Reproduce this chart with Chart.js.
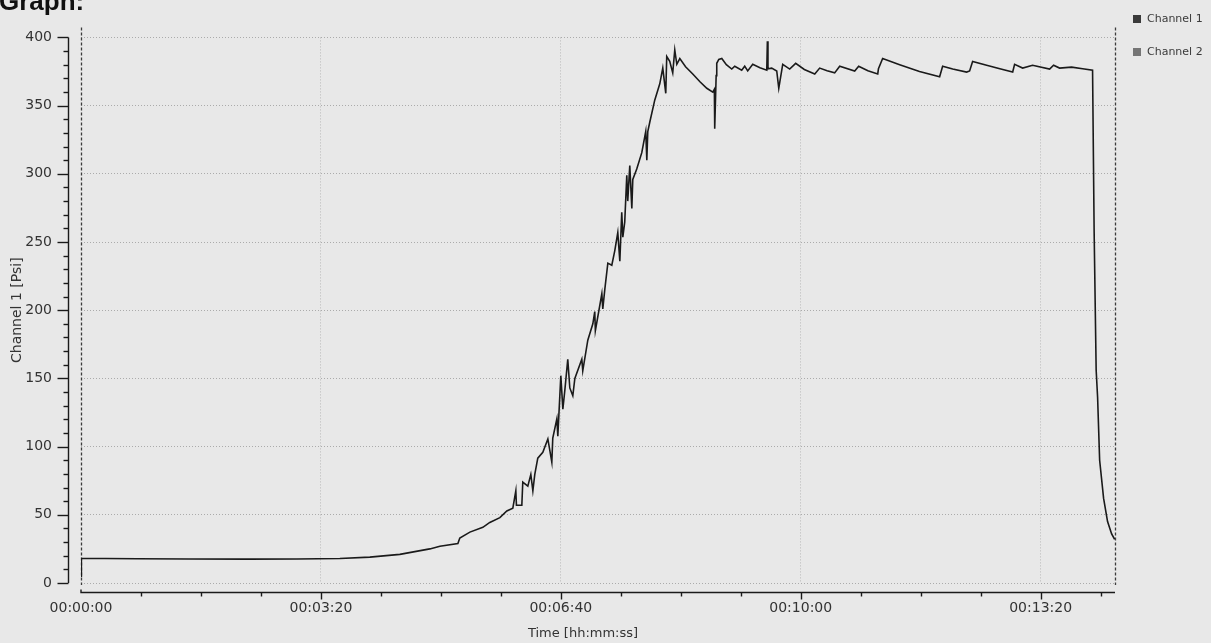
<!DOCTYPE html>
<html><head><meta charset="utf-8">
<script src="https://cdn.jsdelivr.net/npm/chart.js@4.4.1/dist/chart.umd.min.js"></script>
<style>
html,body{margin:0;padding:0;background:#e8e8e8;}
#wrap{position:relative;width:1211px;height:643px;}
</style></head><body>
<div id="wrap"><canvas id="c"></canvas></div>
<script>
const chartTitle = 'Graph:';
const seriesNames = ['Channel 1', 'Channel 2'];
const seriesColors = ['#1a1a1a', '#6b6b6b'];
const legendSwatches = ['#3a3a3a', '#757575'];
const xTitle = 'Time [hh:mm:ss]';
const yTitle = 'Channel 1 [Psi]';
const xTickLabels = ['00:00:00', '00:03:20', '00:06:40', '00:10:00', '00:13:20'];
const yTickLabels = ['0', '50', '100', '150', '200', '250', '300', '350', '400'];

// time in seconds
const timeSeconds = [
  0, 0.3, 20, 47, 90, 140, 180, 215.8, 240.8, 265.8, 290.8, 299.2,
  314.2, 315.8, 324.2, 335, 340.8, 349.2, 355, 360, 362.5, 363,
  367.5, 368.3, 372.5, 375, 376.7, 378.3, 380.8, 385, 389.2, 392.5,
  393.3, 396.7, 397.5, 400, 401.7, 403.3, 405.8, 407.5, 410, 411.7,
  417.5, 418.3, 422.5, 426.7, 428.3, 428.8, 434.2, 435, 436.7, 439.2,
  442.5, 445, 447.5, 449.2, 450.8, 451.7, 453.3, 455, 455.8, 457.5,
  459.2, 460, 463.3, 467.5, 470.8, 471.7, 472.5, 474.2, 478.3, 482.5,
  485, 487.5, 488.3, 490.8, 493.3, 495, 496.7, 499.2, 504, 510,
  516, 521.7, 526.7, 528, 528.3, 529.5, 530, 531.7, 534.2, 538,
  542.5, 545, 550.8, 553.3, 555.8, 560, 566, 571.7, 572.2, 572.7,
  575.8, 580, 581.7, 585, 590.8, 595.8, 603, 611.7, 615.8, 622,
  628.3, 632.5, 645, 648.3, 656, 664.2, 664.8, 668.3, 682.5, 699,
  715.8, 718.3, 726.7, 738.3, 740.8, 743.3, 755, 766, 776.7, 778.3,
  785, 793.3, 807.5, 810.8, 815.8, 825.8, 835, 843.3, 844.6, 846.3,
  847.5, 849.2, 852.5, 855.8, 859.2, 861.7
];
const channel1Psi = [
  5, 18, 18, 17.8, 17.6, 17.5, 17.6, 18, 19, 21, 25, 27,
  29, 33, 37.3, 40.8, 44.4, 47.9, 52.8, 54.9, 67.6, 57,
  57, 74, 71, 79.6, 67.6, 79.6, 91.5, 95.8, 105.6, 88.7,
  106.3, 120.4, 107.7, 152, 127.5, 140.8, 164, 143, 137.3, 150,
  164, 155.6, 178, 190, 199, 185, 212, 201, 215.5, 234.5,
  233, 243.7, 257, 236, 271.8, 253.5, 264.8, 299, 280, 306,
  274.6, 295.8, 303.5, 315.5, 331, 309.9, 331, 338, 354, 366,
  377.5, 359, 386, 382.4, 374, 390.8, 380.3, 384.5, 378.5, 373.2,
  367.5, 362.7, 359.9, 362, 333, 372, 381, 383.8, 384.5, 380,
  376.8, 378.9, 376, 378.9, 375.4, 380.3, 377.8, 376, 397.2, 377,
  377.5, 375.4, 362.7, 380.3, 376.8, 381, 376.5, 373.2, 377.5, 375.5,
  374, 378.9, 375.4, 378.9, 375.5, 373.2, 377, 384.5, 380, 375,
  371.1, 378.9, 376.8, 374.6, 375.4, 382.4, 379.6, 377, 374.6, 380.3,
  377.5, 379.6, 376.8, 379.6, 377.5, 378.2, 377, 376, 258, 156,
  136, 90, 62, 45, 36, 32
];
const channel2Psi = [];

const isMult = (v, m) => Math.abs(v / m - Math.round(v / m)) < 1e-6;
const FONT = '"DejaVu Sans", Verdana, sans-serif';

const decorPlugin = {
  id: 'decor',
  beforeDraw(chart) {
    const ctx = chart.ctx;
    ctx.save();
    ctx.fillStyle = '#e8e8e8';
    ctx.fillRect(0, 0, chart.width, chart.height);
    ctx.restore();
  },
  beforeDatasetsDraw(chart) {
    const ctx = chart.ctx, a = chart.chartArea, xs = chart.scales.x;
    ctx.save();
    ctx.strokeStyle = '#3c3c3c';
    ctx.lineWidth = 1.3;
    ctx.setLineDash([3, 2]);
    [xs.getPixelForValue(xs.min), a.right].forEach(px => {
      ctx.beginPath();
      ctx.moveTo(Math.round(px) + 0.5, a.top - 10);
      ctx.lineTo(Math.round(px) + 0.5, a.bottom + 2);
      ctx.stroke();
    });
    ctx.restore();
  },
  afterDraw(chart) {
    const ctx = chart.ctx, a = chart.chartArea, xs = chart.scales.x, ys = chart.scales.y;
    ctx.save();
    // offset axis lines
    const axX = a.left - 12.5, axY = a.bottom + 9.5;
    ctx.strokeStyle = '#1a1a1a';
    ctx.lineWidth = 1.4;
    ctx.beginPath();
    ctx.moveTo(axX, ys.getPixelForValue(ys.max));
    ctx.lineTo(axX, ys.getPixelForValue(ys.min));
    ctx.stroke();
    ys.ticks.forEach(t => {
      if (!isMult(t.value, 10)) return;
      const y = Math.round(ys.getPixelForValue(t.value)) + 0.5;
      const len = isMult(t.value, 50) ? 11 : 5;
      ctx.beginPath(); ctx.moveTo(axX - len, y); ctx.lineTo(axX, y); ctx.stroke();
    });
    ctx.beginPath();
    ctx.moveTo(xs.getPixelForValue(xs.min), axY - 3);
    ctx.lineTo(xs.getPixelForValue(xs.min), axY);
    ctx.lineTo(a.right, axY);
    ctx.stroke();
    xs.ticks.forEach(t => {
      if (!isMult(t.value, 50) || t.value === 0) return;
      const x = Math.round(xs.getPixelForValue(t.value)) + 0.5;
      const len = isMult(t.value, 200) ? 7 : 4;
      ctx.beginPath(); ctx.moveTo(x, axY); ctx.lineTo(x, axY + len); ctx.stroke();
    });
    // titles
    ctx.fillStyle = '#111';
    ctx.font = 'bold 26px "Liberation Sans", Arial, sans-serif';
    ctx.textAlign = 'left';
    ctx.textBaseline = 'alphabetic';
    ctx.fillText(chartTitle, -1, 10);
    ctx.fillStyle = '#333';
    ctx.font = '13px ' + FONT;
    ctx.textAlign = 'center';
    ctx.textBaseline = 'middle';
    ctx.fillText(xTitle, 583, 634);
    ctx.save();
    ctx.font = '14px ' + FONT;
    ctx.translate(17, (a.top + a.bottom) / 2);
    ctx.rotate(-Math.PI / 2);
    ctx.fillText(yTitle, 0, 0);
    ctx.restore();
    // legend
    ctx.font = '11px ' + FONT;
    ctx.textAlign = 'left';
    chart.data.datasets.forEach((ds, i) => {
      const cy = 19 + i * 33;
      ctx.fillStyle = legendSwatches[i];
      ctx.fillRect(1133, cy - 4, 8, 8);
      ctx.fillStyle = '#3a3a3a';
      ctx.fillText(ds.label, 1147, cy);
    });
    ctx.restore();
  }
};

const toPoints = (xsArr, ysArr) => xsArr.map((x, i) => ({ x, y: ysArr[i] })).filter(p => p.y !== undefined);

new Chart(document.getElementById('c'), {
  type: 'line',
  data: {
    datasets: [
      { label: seriesNames[0], data: toPoints(timeSeconds, channel1Psi), borderColor: seriesColors[0], borderWidth: 1.6, pointRadius: 0, tension: 0, fill: false },
      { label: seriesNames[1], data: toPoints(timeSeconds, channel2Psi), borderColor: seriesColors[1], borderWidth: 1.6, pointRadius: 0, fill: false }
    ]
  },
  options: {
    responsive: true,
    maintainAspectRatio: false,
    animation: false,
    layout: { padding: { left: 0, right: 96, top: 15, bottom: 0 } },
    plugins: { legend: { display: false }, tooltip: { enabled: false }, title: { display: false } },
    scales: {
      x: {
        type: 'linear', min: 0, max: 862,
        afterFit(s) { s.height = 60; },
        grid: { drawTicks: false, lineWidth: 1, color: c => (c.tick && c.tick.value > 0 && isMult(c.tick.value, 200)) ? '#b8b8b8' : 'rgba(0,0,0,0)' },
        border: { display: false, dash: [1, 2] },
        ticks: {
          stepSize: 50, autoSkip: false, maxRotation: 0, includeBounds: false, padding: 17,
          color: '#333', font: { family: FONT, size: 14 },
          callback: v => isMult(v, 200) ? xTickLabels[Math.round(v / 200)] : ''
        }
      },
      y: {
        min: 0, max: 400,
        afterFit(s) { s.width = 81; },
        grid: { drawTicks: false, lineWidth: 1, color: c => (c.tick && isMult(c.tick.value, 50)) ? '#ababab' : 'rgba(0,0,0,0)' },
        border: { display: false, dash: [1, 2] },
        ticks: {
          stepSize: 10, autoSkip: false, padding: 29,
          color: '#333', font: { family: FONT, size: 14 },
          callback: v => isMult(v, 50) ? yTickLabels[Math.round(v / 50)] : ''
        }
      }
    }
  },
  plugins: [decorPlugin]
});
</script>
</body></html>
